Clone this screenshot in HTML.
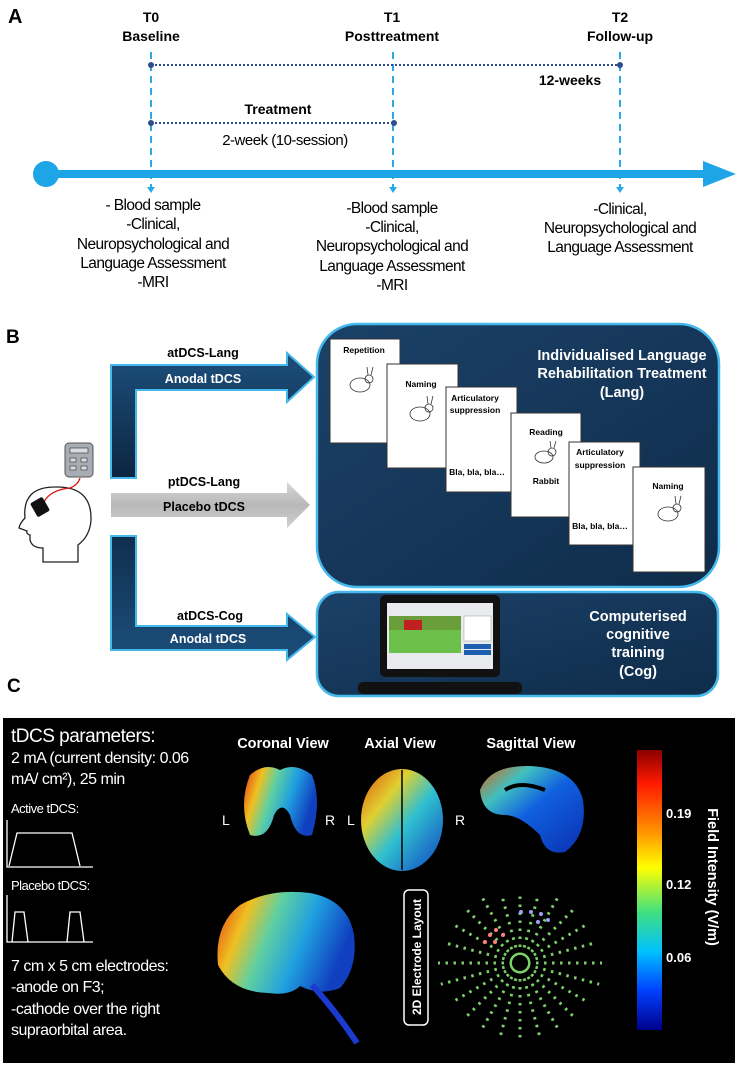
<!DOCTYPE html>
<html><head><meta charset="utf-8"><style>
html,body{margin:0;padding:0;background:#fff;}
body{width:750px;height:1065px;overflow:hidden;position:relative;}
svg{position:absolute;left:0;top:0;}
</style></head><body>
<svg width="750" height="1065" viewBox="0 0 750 1065" xmlns="http://www.w3.org/2000/svg" font-family="Liberation Sans, sans-serif">
<defs>
<linearGradient id="navy" x1="0" y1="0" x2="1" y2="1"><stop offset="0" stop-color="#1b4168"/><stop offset="1" stop-color="#0f2c4a"/></linearGradient>
<linearGradient id="arr" x1="0" y1="0" x2="0" y2="1"><stop offset="0" stop-color="#0f2e4e"/><stop offset="1" stop-color="#1c4f7c"/></linearGradient>
<linearGradient id="arrv" x1="0" y1="0" x2="0" y2="1"><stop offset="0" stop-color="#1c4f7c"/><stop offset="1" stop-color="#0c2540"/></linearGradient>
<linearGradient id="gray" x1="0" y1="0" x2="0" y2="1"><stop offset="0" stop-color="#d8d8d8"/><stop offset="0.5" stop-color="#b8b8b8"/><stop offset="1" stop-color="#cfcfcf"/></linearGradient>
<linearGradient id="cbar" x1="0" y1="0" x2="0" y2="1"><stop offset="0" stop-color="#8b0000"/><stop offset="0.12" stop-color="#ff1a00"/><stop offset="0.3" stop-color="#ff9900"/><stop offset="0.42" stop-color="#ffff00"/><stop offset="0.58" stop-color="#40e080"/><stop offset="0.72" stop-color="#00c0ff"/><stop offset="0.86" stop-color="#0040ff"/><stop offset="1" stop-color="#00008b"/></linearGradient>
<linearGradient id="brainL" x1="0" y1="0" x2="1" y2="0.3"><stop offset="0" stop-color="#e03010"/><stop offset="0.25" stop-color="#f0c020"/><stop offset="0.45" stop-color="#60d0a0"/><stop offset="0.7" stop-color="#20a0e0"/><stop offset="1" stop-color="#1040c0"/></linearGradient>
<linearGradient id="brainA" x1="0" y1="0" x2="1" y2="1"><stop offset="0" stop-color="#e05010"/><stop offset="0.3" stop-color="#e0d030"/><stop offset="0.55" stop-color="#30c0d0"/><stop offset="1" stop-color="#1040c0"/></linearGradient>
<linearGradient id="brainS" x1="0" y1="0" x2="1" y2="1"><stop offset="0" stop-color="#e06010"/><stop offset="0.25" stop-color="#40c0c0"/><stop offset="0.5" stop-color="#1060e0"/><stop offset="1" stop-color="#0a30b0"/></linearGradient>
</defs>

<!-- Panel A -->
<text x="8" y="23" font-size="20" font-weight="bold">A</text>
<g font-size="14" font-weight="bold" text-anchor="middle">
<text x="151" y="22">T0</text><text x="151" y="41">Baseline</text>
<text x="392" y="22">T1</text><text x="392" y="41">Posttreatment</text>
<text x="620" y="22">T2</text><text x="620" y="41">Follow-up</text>
<text x="570" y="85">12-weeks</text>
<text x="278" y="114">Treatment</text>
</g>
<g stroke="#2aa9e6" stroke-width="2" stroke-dasharray="7,5">
<line x1="151" y1="52" x2="151" y2="188"/><line x1="393" y1="52" x2="393" y2="188"/><line x1="620" y1="52" x2="620" y2="188"/>
</g>
<g fill="#2aa9e6"><path d="M147,187 L155,187 L151,193Z"/><path d="M389,187 L397,187 L393,193Z"/><path d="M616,187 L624,187 L620,193Z"/></g>
<g stroke="#2f4d8a" stroke-width="2" stroke-dasharray="2,2">
<line x1="151" y1="65" x2="620" y2="65"/><line x1="151" y1="123" x2="393" y2="123"/>
</g>
<g fill="#2f4d8a"><circle cx="151" cy="65" r="3"/><circle cx="620" cy="65" r="3"/><circle cx="151" cy="123" r="3"/><circle cx="394" cy="123" r="3"/></g>
<text x="285" y="145" font-size="15" text-anchor="middle" letter-spacing="-0.5">2-week (10-session)</text>
<circle cx="46" cy="174" r="13" fill="#1ea5e8"/>
<rect x="46" y="170" width="660" height="8" fill="#1ea5e8"/>
<path d="M703,161 L736,174 L703,187Z" fill="#1ea5e8"/>
<g font-size="15.5" text-anchor="middle" letter-spacing="-0.6">
<text x="153" y="210">- Blood sample</text><text x="153" y="229">-Clinical,</text><text x="153" y="249">Neuropsychological and</text><text x="153" y="268">Language Assessment</text><text x="153" y="287">-MRI</text>
<text x="392" y="213">-Blood sample</text><text x="392" y="232">-Clinical,</text><text x="392" y="251">Neuropsychological and</text><text x="392" y="271">Language Assessment</text><text x="392" y="290">-MRI</text>
<text x="620" y="214">-Clinical,</text><text x="620" y="233">Neuropsychological and</text><text x="620" y="252">Language Assessment</text>
</g>

<!-- Panel B -->
<text x="6" y="343" font-size="19" font-weight="bold">B</text>
<rect x="317" y="324" width="402" height="263" rx="40" fill="url(#navy)" stroke="#45b8ec" stroke-width="2.5"/>
<rect x="317" y="592" width="401" height="104" rx="22" fill="url(#navy)" stroke="#45b8ec" stroke-width="2.5"/>
<path d="M111,478 V365 H287 V353 L314,377 L287,402 V390 H136 V478 Z" fill="url(#arrv)" stroke="#45b8ec" stroke-width="2"/>
<path d="M111,493 H287 V482 L310,505 L287,528 V517 H111 Z" fill="url(#gray)"/>
<path d="M111,536 H136 V626 H287 V614 L315,637 L287,660 V650 H111 Z" fill="url(#arr)" stroke="#45b8ec" stroke-width="2"/>
<g font-size="12.5" font-weight="bold" text-anchor="middle">
<text x="203" y="357">atDCS-Lang</text>
<text x="203" y="383" fill="#fff">Anodal tDCS</text>
<text x="204" y="486">ptDCS-Lang</text>
<text x="204" y="511">Placebo tDCS</text>
<text x="210" y="620">atDCS-Cog</text>
<text x="208" y="643" fill="#fff">Anodal tDCS</text>
</g>
<path d="M43,562 V548 Q32,548 30,540 L30,535 Q26,534 27,531 L19,528 Q20,523 25,518 Q22,487 55,487 Q92,486 91,520 Q90,536 78,545 V562 Z" fill="#fff" stroke="#222" stroke-width="1.3"/>
<path d="M44,502 Q50,490 70,488 Q78,485 80,478" fill="none" stroke="#e01010" stroke-width="1.3"/>
<rect x="33" y="499" width="14" height="16" rx="2" fill="#111" transform="rotate(-30 40 507)"/>
<rect x="65" y="443" width="28" height="34" rx="4" fill="#a8acb4" stroke="#555" stroke-width="1"/>
<rect x="70" y="448" width="18" height="5" fill="#d8dbe0" stroke="#444" stroke-width="0.7"/>
<g fill="#d8dbe0" stroke="#444" stroke-width="0.7"><rect x="70" y="458" width="6" height="4"/><rect x="81" y="458" width="6" height="4"/><rect x="70" y="466" width="6" height="4"/><rect x="81" y="466" width="6" height="4"/></g>
<g fill="#fff" font-size="14.5" font-weight="bold" text-anchor="middle">
<text x="622" y="360">Individualised Language</text>
<text x="622" y="378">Rehabilitation Treatment</text>
<text x="622" y="397">(Lang)</text>
<text x="638" y="621">Computerised</text>
<text x="638" y="639">cognitive</text>
<text x="638" y="657">training</text>
<text x="638" y="676">(Cog)</text>
</g>
<g fill="#fff" stroke="#333" stroke-width="1">
<rect x="330" y="339" width="70" height="104"/>
<rect x="387" y="364" width="71" height="104"/>
<rect x="446" y="387" width="71" height="105"/>
<rect x="511" y="413" width="70" height="104"/>
<rect x="569" y="442" width="71" height="103"/>
<rect x="633" y="467" width="72" height="105"/>
</g>
<g font-size="8.5" font-weight="bold" text-anchor="middle">
<text x="364" y="353">Repetition</text>
<text x="421" y="387">Naming</text>
<text x="475" y="401">Articulatory</text><text x="475" y="413">suppression</text>
<text x="477" y="475">Bla, bla, bla…</text>
<text x="546" y="435">Reading</text>
<text x="546" y="484">Rabbit</text>
<text x="600" y="455">Articulatory</text><text x="600" y="468">suppression</text>
<text x="600" y="529">Bla, bla, bla…</text>
<text x="668" y="489">Naming</text>
</g>
<g fill="none" stroke="#333" stroke-width="0.8">
<g transform="translate(360,383)"><ellipse cx="0" cy="2" rx="10" ry="7"/><circle cx="9" cy="-4" r="4"/><path d="M8,-8 L7,-16 M11,-8 L13,-16"/></g>
<g transform="translate(420,412)"><ellipse cx="0" cy="2" rx="10" ry="7"/><circle cx="9" cy="-4" r="4"/><path d="M8,-8 L7,-16 M11,-8 L13,-16"/></g>
<g transform="translate(544,455)"><ellipse cx="0" cy="2" rx="9" ry="6"/><circle cx="8" cy="-3" r="4"/><path d="M7,-7 L6,-14 M10,-7 L12,-14"/></g>
<g transform="translate(668,512)"><ellipse cx="0" cy="2" rx="10" ry="7"/><circle cx="9" cy="-4" r="4"/><path d="M8,-8 L7,-16 M11,-8 L13,-16"/></g>
</g>
<rect x="380" y="595" width="120" height="82" rx="5" fill="#111"/>
<rect x="387" y="603" width="106" height="66" fill="#e8eaee"/>
<rect x="389" y="616" width="72" height="37" fill="#6cc04a"/>
<rect x="389" y="616" width="72" height="14" fill="#6a9e3a"/>
<rect x="404" y="620" width="18" height="10" fill="#c02020"/>
<rect x="464" y="616" width="27" height="25" fill="#fff" stroke="#999" stroke-width="0.5"/>
<rect x="464" y="644" width="27" height="5" fill="#1f5fb0"/><rect x="464" y="650" width="27" height="5" fill="#1f5fb0"/>
<rect x="358" y="682" width="164" height="12" rx="5" fill="#111"/>

<!-- Panel C -->
<text x="7" y="692" font-size="19" font-weight="bold">C</text>
<rect x="3" y="718" width="732" height="345" fill="#000"/>
<g fill="#fff" letter-spacing="-0.5">
<text x="11" y="742" font-size="19">tDCS parameters:</text>
<text x="11" y="763" font-size="16">2 mA (current density: 0.06</text>
<text x="11" y="784" font-size="16">mA/ cm²), 25 min</text>
<text x="11" y="813" font-size="13">Active tDCS:</text>
<text x="11" y="890" font-size="13">Placebo tDCS:</text>
<text x="11" y="971" font-size="16">7 cm x 5 cm electrodes:</text>
<text x="11" y="992" font-size="16">-anode on F3;</text>
<text x="11" y="1014" font-size="16">-cathode over the right</text>
<text x="11" y="1035" font-size="16">supraorbital area.</text>
</g>
<g fill="none" stroke="#fff" stroke-width="1.3">
<path d="M7,820 V867 H93"/><path d="M9,866 L17,833 H72 L80,866"/>
<path d="M7,895 V942 H93"/><path d="M12,942 L15,912 H24 L28,942 M67,942 L70,912 H80 L84,942"/>
</g>
<g fill="#fff" font-size="14.5" font-weight="bold" text-anchor="middle">
<text x="283" y="748">Coronal View</text>
<text x="400" y="748">Axial View</text>
<text x="531" y="748">Sagittal View</text>
</g>
<g fill="#fff" font-size="14">
<text x="222" y="825">L</text><text x="325" y="825">R</text>
<text x="347" y="825">L</text><text x="455" y="825">R</text>
</g>
<path d="M250,775 Q265,762 280,770 Q295,762 312,775 Q322,800 312,835 Q296,840 290,815 Q282,800 274,815 Q268,840 250,835 Q238,805 250,775Z" fill="url(#brainL)"/>
<ellipse cx="402" cy="820" rx="41" ry="51" fill="url(#brainA)"/>
<line x1="402" y1="770" x2="402" y2="870" stroke="#000" stroke-width="1.5"/>
<path d="M480,790 Q490,765 530,766 Q575,768 583,800 Q588,835 565,852 Q545,856 540,835 Q520,815 505,815 Q482,815 480,790Z" fill="url(#brainS)"/>
<path d="M505,790 Q520,780 545,790" stroke="#000" stroke-width="4" fill="none"/>
<path d="M218,965 Q214,925 240,905 Q270,888 310,893 Q348,900 354,935 Q358,968 340,988 Q320,996 300,986 Q290,996 268,993 Q232,992 218,965Z" fill="url(#brainL)"/>
<path d="M312,985 Q335,1010 357,1043" stroke="#1a3ad0" stroke-width="6" fill="none"/>
<rect x="404" y="890" width="24" height="135" rx="5" fill="#000" stroke="#fff" stroke-width="1.5"/>
<text transform="translate(421,957) rotate(-90)" fill="#fff" font-size="12" font-weight="bold" text-anchor="middle">2D Electrode Layout</text>
<g stroke="#7ccf6a" stroke-width="3" stroke-dasharray="2.5,5.5">
<g transform="translate(520,963)">
<line x1="8" y1="0" x2="82" y2="0"/><line x1="8" y1="0" x2="82" y2="0" transform="rotate(15)"/><line x1="8" y1="0" x2="80" y2="0" transform="rotate(30)"/><line x1="8" y1="0" x2="80" y2="0" transform="rotate(45)"/><line x1="8" y1="0" x2="80" y2="0" transform="rotate(60)"/><line x1="8" y1="0" x2="78" y2="0" transform="rotate(75)"/><line x1="8" y1="0" x2="78" y2="0" transform="rotate(90)"/><line x1="8" y1="0" x2="78" y2="0" transform="rotate(105)"/><line x1="8" y1="0" x2="80" y2="0" transform="rotate(120)"/><line x1="8" y1="0" x2="80" y2="0" transform="rotate(135)"/><line x1="8" y1="0" x2="80" y2="0" transform="rotate(150)"/><line x1="8" y1="0" x2="82" y2="0" transform="rotate(165)"/><line x1="8" y1="0" x2="82" y2="0" transform="rotate(180)"/><line x1="8" y1="0" x2="80" y2="0" transform="rotate(195)"/><line x1="8" y1="0" x2="78" y2="0" transform="rotate(210)"/><line x1="8" y1="0" x2="75" y2="0" transform="rotate(225)"/><line x1="8" y1="0" x2="75" y2="0" transform="rotate(240)"/><line x1="8" y1="0" x2="70" y2="0" transform="rotate(255)"/><line x1="8" y1="0" x2="70" y2="0" transform="rotate(270)"/><line x1="8" y1="0" x2="70" y2="0" transform="rotate(285)"/><line x1="8" y1="0" x2="75" y2="0" transform="rotate(300)"/><line x1="8" y1="0" x2="75" y2="0" transform="rotate(315)"/><line x1="8" y1="0" x2="78" y2="0" transform="rotate(330)"/><line x1="8" y1="0" x2="80" y2="0" transform="rotate(345)"/>
</g>
</g>
<g fill="#ff8080"><circle cx="490" cy="935" r="2"/><circle cx="496" cy="930" r="2"/><circle cx="485" cy="942" r="2"/><circle cx="495" cy="942" r="2"/><circle cx="503" cy="935" r="2"/></g>
<g fill="#a0a0ff"><circle cx="521" cy="912" r="2"/><circle cx="531" cy="912" r="2"/><circle cx="541" cy="914" r="2"/><circle cx="548" cy="920" r="2"/><circle cx="538" cy="922" r="2"/></g>
<rect x="637" y="750" width="25" height="280" fill="url(#cbar)"/>
<g fill="#fff" font-size="13" font-weight="bold">
<text x="666" y="818">0.19</text><text x="666" y="889">0.12</text><text x="666" y="962">0.06</text>
</g>
<text transform="translate(708,877) rotate(90)" fill="#fff" font-size="14.5" font-weight="bold" text-anchor="middle">Field Intensity (V/m)</text>
</svg>
</body></html>
